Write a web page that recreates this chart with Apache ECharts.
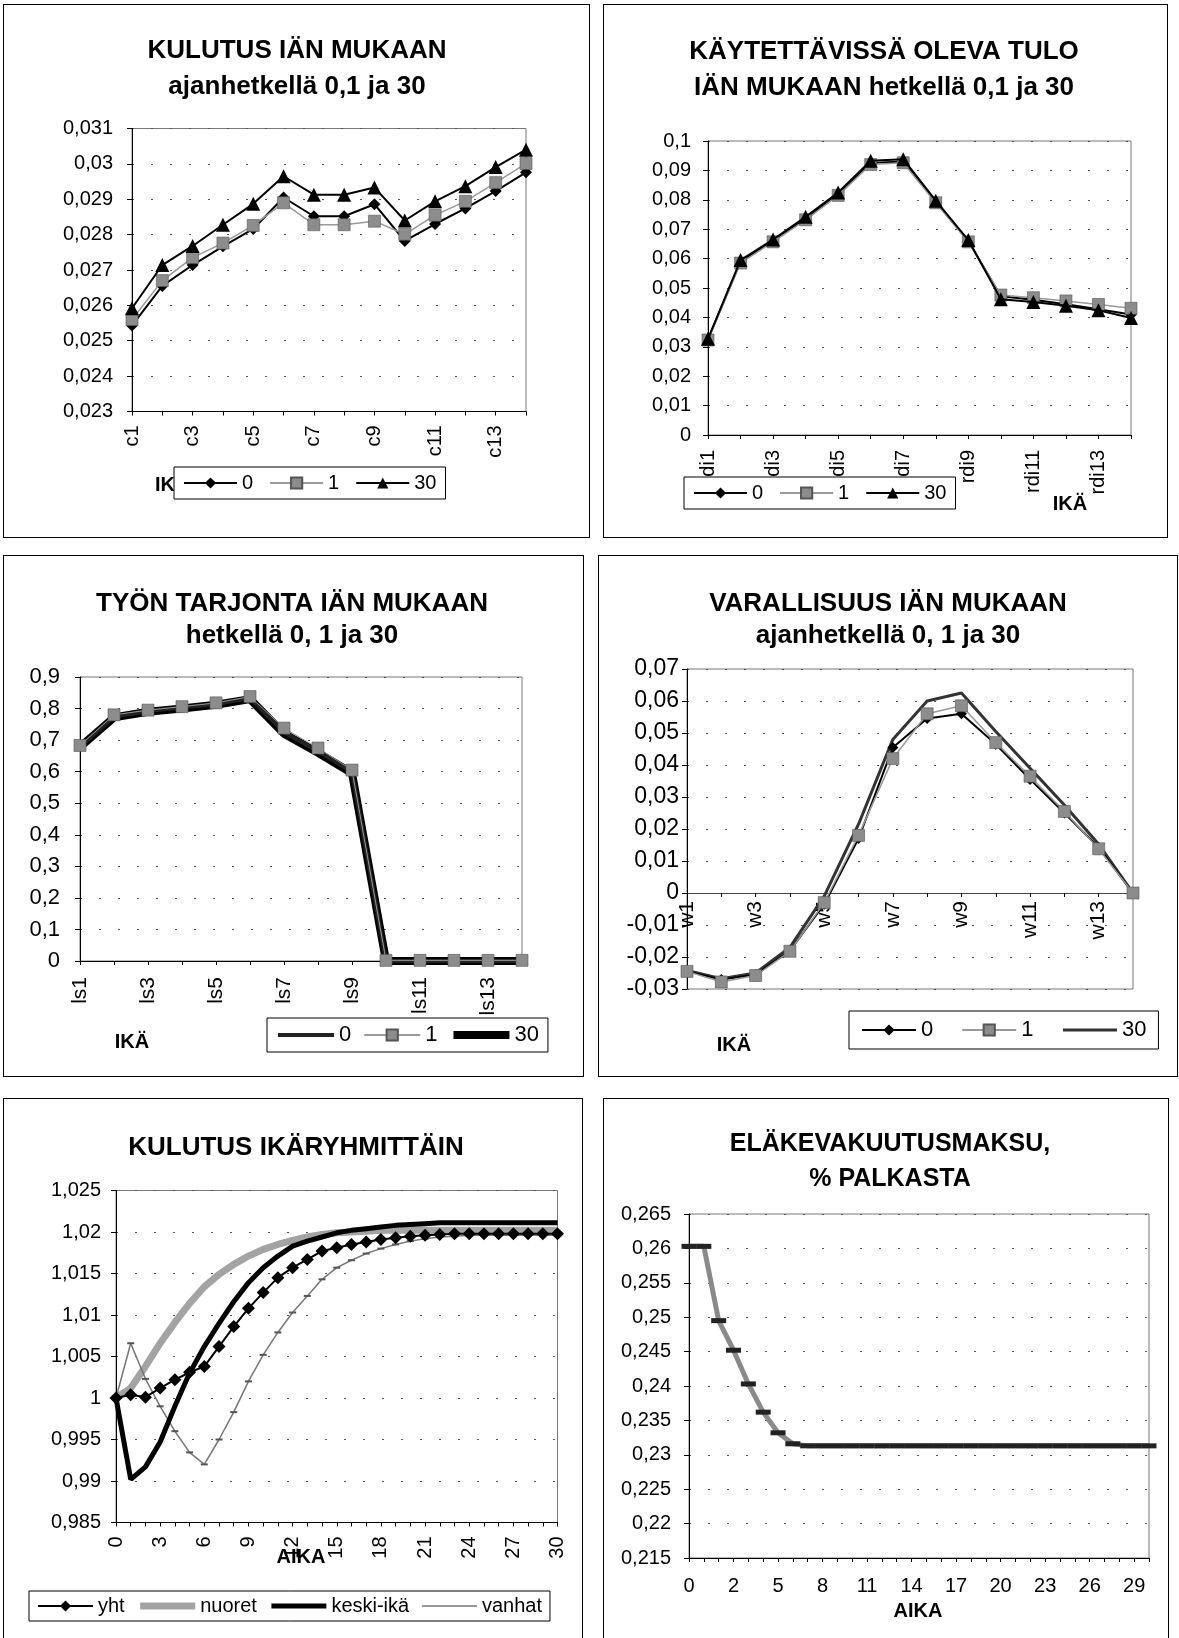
<!DOCTYPE html>
<html>
<head>
<meta charset="utf-8">
<script src="https://cdn.jsdelivr.net/npm/echarts@6/dist/echarts.min.js"></script>
<style>
  html, body { margin: 0; padding: 0; background: #fff; }
  #page { position: relative; width: 1179px; height: 1638px; overflow: hidden; background: #fff; }
  .layer { position: absolute; left: 0; top: 0; width: 1179px; height: 1638px; }
  .box { position: absolute; border: 1px solid #000; box-sizing: border-box; }
</style>
</head>
<body>
<div id="page">
  <div class="box" style="left:3px;top:4px;width:587px;height:534px"></div>
  <div class="box" style="left:603px;top:4px;width:565px;height:534px"></div>
  <div class="box" style="left:3px;top:555px;width:581px;height:522px"></div>
  <div class="box" style="left:598px;top:555px;width:580px;height:522px"></div>
  <div class="box" style="left:3px;top:1098px;width:580px;height:560px"></div>
  <div class="box" style="left:603px;top:1098px;width:566px;height:560px"></div>
  <div class="layer" id="kulutus"></div>
  <div class="layer" id="tulo"></div>
  <div class="layer" id="tyo"></div>
  <div class="layer" id="varallisuus"></div>
  <div class="layer" id="ryhmat"></div>
  <div class="layer" id="maksu"></div>
</div>
<script>
// Kulutus iän mukaan (ajanhetket 0, 1 ja 30)
const consCats = ['c1', 'c2', 'c3', 'c4', 'c5', 'c6', 'c7', 'c8', 'c9', 'c10', 'c11', 'c12', 'c13', 'c14'];
const cons0  = [0.02543, 0.02655, 0.02714, 0.02767, 0.02816, 0.02905, 0.02852, 0.02852, 0.02886, 0.02782, 0.02830, 0.02874, 0.02923, 0.02976];
const cons1  = [0.02560, 0.02670, 0.02735, 0.02776, 0.02826, 0.02890, 0.02828, 0.02828, 0.02838, 0.02801, 0.02855, 0.02894, 0.02947, 0.03001];
const cons30 = [0.02592, 0.02714, 0.02768, 0.02828, 0.02887, 0.02965, 0.02913, 0.02913, 0.02933, 0.02840, 0.02894, 0.02937, 0.02991, 0.03040];

// Käytettävissä oleva tulo iän mukaan
const incCats = ['rdi1', 'rdi2', 'rdi3', 'rdi4', 'rdi5', 'rdi6', 'rdi7', 'rdi8', 'rdi9', 'rdi10', 'rdi11', 'rdi12', 'rdi13', 'rdi14'];
const inc0  = [0.0325, 0.0590, 0.0660, 0.0735, 0.0818, 0.0925, 0.0930, 0.0793, 0.0660, 0.0472, 0.0460, 0.0445, 0.0428, 0.0410];
const inc1  = [0.0323, 0.0585, 0.0657, 0.0732, 0.0815, 0.0920, 0.0926, 0.0790, 0.0657, 0.0476, 0.0467, 0.0456, 0.0444, 0.0431];
const inc30 = [0.0327, 0.0595, 0.0665, 0.0742, 0.0825, 0.0933, 0.0938, 0.0797, 0.0663, 0.0462, 0.0452, 0.0440, 0.0424, 0.0398];

// Työn tarjonta iän mukaan
const labCats = ['ls1', 'ls2', 'ls3', 'ls4', 'ls5', 'ls6', 'ls7', 'ls8', 'ls9', 'ls10', 'ls11', 'ls12', 'ls13', 'ls14'];
const lab0  = [0.680, 0.775, 0.792, 0.803, 0.814, 0.833, 0.725, 0.665, 0.600, 0, 0, 0, 0, 0];
const lab1  = [0.683, 0.780, 0.795, 0.806, 0.818, 0.838, 0.738, 0.675, 0.605, 0.002, 0.002, 0.002, 0.002, 0.002];
const lab30 = [0.678, 0.772, 0.790, 0.800, 0.812, 0.830, 0.720, 0.660, 0.595, 0, 0, 0, 0, 0];

// Varallisuus iän mukaan
const wCats = ['w1', 'w2', 'w3', 'w4', 'w5', 'w6', 'w7', 'w8', 'w9', 'w10', 'w11', 'w12', 'w13', 'w14'];
const w0  = [-0.0245, -0.0270, -0.0255, -0.0180, -0.0035, 0.0170, 0.0455, 0.0545, 0.0560, 0.0465, 0.0355, 0.0250, 0.0142, 0];
const w1  = [-0.0245, -0.0278, -0.0258, -0.0182, -0.0030, 0.0180, 0.0420, 0.0560, 0.0585, 0.0470, 0.0365, 0.0255, 0.0138, 0];
const w30 = [-0.0242, -0.0268, -0.0250, -0.0170, -0.0010, 0.0215, 0.0480, 0.0600, 0.0625, 0.0505, 0.0390, 0.0275, 0.0152, 0];

// Kulutus ikäryhmittäin, aika 0–30
const timeCats = ['0', '1', '2', '3', '4', '5', '6', '7', '8', '9', '10', '11', '12', '13', '14', '15',
                  '16', '17', '18', '19', '20', '21', '22', '23', '24', '25', '26', '27', '28', '29', '30'];
const yht    = [1.0000, 1.0004, 1.0001, 1.0012, 1.0022, 1.0031, 1.0038, 1.0062, 1.0086, 1.0108, 1.0127, 1.0145, 1.0157, 1.0167, 1.0177, 1.0181,
                1.0185, 1.0188, 1.0191, 1.0193, 1.0195, 1.0196, 1.0197, 1.0198, 1.0198, 1.0198, 1.0198, 1.0198, 1.0198, 1.0198, 1.0198];
const nuoret = [1.0000, 1.0012, 1.0038, 1.0066, 1.0091, 1.0114, 1.0134, 1.0149, 1.0161, 1.0171, 1.0179, 1.0185, 1.0190, 1.0194, 1.0197, 1.0199,
                1.0200, 1.0201, 1.0202, 1.0202, 1.0202, 1.0202, 1.0202, 1.0202, 1.0202, 1.0202, 1.0202, 1.0202, 1.0202, 1.0202, 1.0202];
const keski  = [1.0000, 0.9902, 0.9917, 0.9947, 0.9990, 1.0030, 1.0062, 1.0090, 1.0116, 1.0139, 1.0157, 1.0171, 1.0183, 1.0189, 1.0194, 1.0199,
                1.0202, 1.0204, 1.0206, 1.0208, 1.0209, 1.0210, 1.0211, 1.0211, 1.0211, 1.0211, 1.0211, 1.0211, 1.0211, 1.0211, 1.0211];
const vanhat = [1.0000, 1.0066, 1.0023, 0.9990, 0.9960, 0.99345, 0.9920, 0.9950, 0.9983, 1.0020, 1.0052, 1.0079, 1.0103, 1.0123, 1.0143, 1.0157,
                1.0166, 1.0174, 1.0180, 1.0185, 1.0189, 1.0192, 1.0194, 1.0195, 1.0196, 1.0196, 1.0196, 1.0196, 1.0196, 1.0196, 1.0196];

// Eläkevakuutusmaksu, % palkasta (lähtötila 0 kahdesti)
const feeCats = ['0', '0', '1', '2', '3', '4', '5', '6', '7', '8', '9', '10', '11', '12', '13', '14',
                 '15', '16', '17', '18', '19', '20', '21', '22', '23', '24', '25', '26', '27', '28', '29', '30'];
const fee = [0.2603, 0.2603, 0.2495, 0.2452, 0.2403, 0.2362, 0.2332, 0.2316, 0.2313, 0.2313, 0.2313, 0.2313, 0.2313, 0.2313, 0.2313, 0.2313,
             0.2313, 0.2313, 0.2313, 0.2313, 0.2313, 0.2313, 0.2313, 0.2313, 0.2313, 0.2313, 0.2313, 0.2313, 0.2313, 0.2313, 0.2313, 0.2313];

const FONT = '"Liberation Sans", Arial, Helvetica, sans-serif';

function fmt(v) {
  return String(Math.round(v * 1e6) / 1e6).replace('.', ',');
}

function gridAt(l, t, r, b) {
  return { left: l, top: t, width: r - l, height: b - t, show: true, borderColor: '#777', borderWidth: 1 };
}

function catAxis(data, o) {
  return {
    type: 'category', data: data, boundaryGap: false, offset: o.offset || 0,
    axisLine: { show: true, onZero: false, lineStyle: { color: o.lineColor || '#000', width: 1 } },
    axisTick: { show: true, interval: 0, length: 4, lineStyle: { color: '#000' } },
    axisLabel: { interval: o.interval, rotate: o.rotate || 0, margin: o.margin, fontSize: o.size,
                 fontFamily: o.family || FONT, color: '#000' },
    splitLine: { show: false }
  };
}

function valAxis(min, max, interval, o) {
  return {
    type: 'value', min: min, max: max, interval: interval,
    axisLine: { show: true, lineStyle: { color: '#000', width: 1 } },
    axisTick: { show: true, length: 5, lineStyle: { color: '#000' } },
    axisLabel: { formatter: fmt, margin: o.margin, fontSize: o.size, fontFamily: o.family || FONT, color: '#000' },
    splitLine: { show: true, lineStyle: { color: '#555', type: [2, 17], width: 1 } }
  };
}

function label(x, y, str, size, bold, align) {
  return {
    type: 'text', x: x, y: y, z: -1,
    style: { text: str, fill: '#000', fontSize: size, fontWeight: bold ? 'bold' : 'normal',
             fontFamily: FONT, align: align || 'center', verticalAlign: 'middle' }
  };
}

function legendAt(left, top, items, o) {
  return {
    left: left, top: top, orient: 'horizontal', data: items, selectedMode: false,
    backgroundColor: '#fff', borderColor: '#000', borderWidth: 1,
    padding: o.padding || [6, 9], itemGap: o.gap, itemWidth: o.w, itemHeight: 14,
    textStyle: { fontSize: o.size, fontFamily: o.family || FONT, color: '#000' }, z: 10
  };
}

// legend entry that shows only a plain stroke (series drawn without markers)
function plainKey(name, color, width) {
  return { name: name, itemStyle: { color: 'rgba(0,0,0,0)', borderWidth: 0 }, lineStyle: { color: color, width: width } };
}

function line(name, data, style) {
  return Object.assign({
    name: name, type: 'line', data: data, showAllSymbol: true, animation: false,
    symbol: 'none', emphasis: { disabled: true }
  }, style);
}

// marker styles shared by the age-profile panels
const S_DIAMOND = { symbol: 'diamond', symbolSize: 12, lineStyle: { color: '#000', width: 2 }, itemStyle: { color: '#000' }, z: 3 };
const S_SQUARE  = { symbol: 'rect', symbolSize: 12, lineStyle: { color: '#999', width: 1.5 }, itemStyle: { color: '#8c8c8c', borderColor: '#555', borderWidth: 0.6 }, z: 4 };
const S_TRIANGLE = { symbol: 'triangle', symbolSize: 14, lineStyle: { color: '#000', width: 2 }, itemStyle: { color: '#000' }, z: 5 };

function draw(id, option) {
  const chart = echarts.init(document.getElementById(id), null, { renderer: 'canvas' });
  option.animation = false;
  option.backgroundColor = 'transparent';
  chart.setOption(option);
}

// 1. KULUTUS IÄN MUKAAN
draw('kulutus', {
  grid: gridAt(132, 128.5, 526, 411.5),
  xAxis: catAxis(consCats, { interval: 1, rotate: 90, margin: 14, size: 20 }),
  yAxis: valAxis(0.023, 0.031, 0.001, { margin: 19, size: 20 }),
  legend: legendAt(174, 467, ['0', '1', '30'], { gap: 16, w: 53, size: 20 }),
  graphic: [
    label(297, 51, 'KULUTUS IÄN MUKAAN', 26, true),
    label(297, 87, 'ajanhetkellä 0,1 ja 30', 26, true),
    label(155, 485, 'IKÄ', 20, true, 'left')
  ],
  series: [
    line('0', cons0, S_DIAMOND),
    line('1', cons1, S_SQUARE),
    line('30', cons30, S_TRIANGLE)
  ]
});

// 2. KÄYTETTÄVISSÄ OLEVA TULO
draw('tulo', {
  grid: gridAt(708, 141, 1131, 435),
  xAxis: catAxis(incCats, { interval: 1, rotate: 90, margin: 15, size: 20 }),
  yAxis: valAxis(0, 0.1, 0.01, { margin: 17, size: 20 }),
  legend: legendAt(684, 477, ['0', '1', '30'], { gap: 16, w: 53, size: 20 }),
  graphic: [
    label(884, 52, 'KÄYTETTÄVISSÄ OLEVA TULO', 26, true),
    label(884, 88, 'IÄN MUKAAN hetkellä 0,1 ja 30', 26, true),
    label(1070, 504, 'IKÄ', 20, true)
  ],
  series: [
    line('0', inc0, S_DIAMOND),
    line('1', inc1, S_SQUARE),
    line('30', inc30, S_TRIANGLE)
  ]
});

// 3. TYÖN TARJONTA IÄN MUKAAN
draw('tyo', {
  grid: gridAt(80, 677, 522, 961),
  xAxis: catAxis(labCats, { interval: 1, rotate: 90, margin: 16, size: 21 }),
  yAxis: valAxis(0, 0.9, 0.1, { margin: 20, size: 22 }),
  legend: legendAt(267, 1018, [plainKey('0', '#222', 4), '1', plainKey('30', '#000', 8)], { gap: 12, w: 56, size: 22 }),
  graphic: [
    label(292, 604, 'TYÖN TARJONTA IÄN MUKAAN', 26, true),
    label(292, 636, 'hetkellä 0, 1 ja 30', 26, true),
    label(132, 1042, 'IKÄ', 20, true)
  ],
  series: [
    line('30', lab30, { lineStyle: { color: '#000', width: 8 }, itemStyle: { color: '#000' }, z: 2 }),
    line('0', lab0, { lineStyle: { color: '#222', width: 4 }, itemStyle: { color: '#222' }, z: 3 }),
    line('1', lab1, { symbol: 'rect', symbolSize: 12, lineStyle: { color: '#999', width: 1 },
                      itemStyle: { color: '#8c8c8c', borderColor: '#555', borderWidth: 0.6 }, z: 4 })
  ]
});

// 4. VARALLISUUS IÄN MUKAAN — the category axis runs along the zero line
const wTop = 669, wBottom = 989, wMin = -0.03, wMax = 0.07;
const wZeroShift = (wBottom - wTop) * (0 - wMin) / (wMax - wMin);
draw('varallisuus', {
  grid: gridAt(687, wTop, 1133, wBottom),
  xAxis: catAxis(wCats, { interval: 1, rotate: 90, margin: 8, size: 21, offset: -wZeroShift, lineColor: '#444' }),
  yAxis: valAxis(wMin, wMax, 0.01, { margin: 8, size: 23 }),
  legend: legendAt(849, 1011, ['0', '1', plainKey('30', '#333', 3)], { gap: 28, w: 54, size: 22, padding: [8, 12] }),
  graphic: [
    label(888, 604, 'VARALLISUUS IÄN MUKAAN', 26, true),
    label(888, 636, 'ajanhetkellä 0, 1 ja 30', 26, true),
    label(734, 1045, 'IKÄ', 20, true)
  ],
  series: [
    line('30', w30, { lineStyle: { color: '#333', width: 3 }, itemStyle: { color: '#333' }, z: 2 }),
    line('0', w0, Object.assign({}, S_DIAMOND, { symbolSize: 11 })),
    line('1', w1, S_SQUARE)
  ]
});

// 5. KULUTUS IKÄRYHMITTÄIN
draw('ryhmat', {
  grid: gridAt(116, 1190.5, 557.5, 1522.5),
  xAxis: catAxis(timeCats, { interval: 2, rotate: 90, margin: 14, size: 20 }),
  yAxis: valAxis(0.985, 1.025, 0.005, { margin: 15, size: 20 }),
  legend: legendAt(29, 1591, ['yht', plainKey('nuoret', '#a3a3a3', 7), plainKey('keski-ikä', '#000', 5), plainKey('vanhat', '#777', 1.5)],
                   { gap: 12, w: 55, size: 20, padding: [5, 8] }),
  graphic: [
    label(296, 1148, 'KULUTUS IKÄRYHMITTÄIN', 26, true),
    label(301, 1557, 'AIKA', 20, true)
  ],
  series: [
    line('nuoret', nuoret, { lineStyle: { color: '#a3a3a3', width: 7 }, itemStyle: { color: '#a3a3a3' }, z: 2 }),
    line('vanhat', vanhat, { symbol: 'rect', symbolSize: [7, 2], lineStyle: { color: '#777', width: 1.5 },
                             itemStyle: { color: '#555' }, z: 3 }),
    line('keski-ikä', keski, { lineStyle: { color: '#000', width: 5 }, itemStyle: { color: '#000' }, z: 4 }),
    line('yht', yht, { symbol: 'diamond', symbolSize: 13, lineStyle: { color: '#000', width: 2 }, itemStyle: { color: '#000' }, z: 5 })
  ]
});

// 6. ELÄKEVAKUUTUSMAKSU, % PALKASTA
draw('maksu', {
  grid: gridAt(689, 1214, 1149, 1558),
  xAxis: catAxis(feeCats, { interval: 2, rotate: 0, margin: 18, size: 20 }),
  yAxis: valAxis(0.215, 0.265, 0.005, { margin: 18, size: 20 }),
  graphic: [
    label(890, 1144, 'ELÄKEVAKUUTUSMAKSU,', 25, true),
    label(890, 1179, '% PALKASTA', 25, true),
    label(918, 1611, 'AIKA', 20, true)
  ],
  series: [
    line('maksu', fee, { symbol: 'rect', symbolSize: [15, 5], lineStyle: { color: '#8a8a8a', width: 5 },
                         itemStyle: { color: '#222' } })
  ]
});
</script>
</body>
</html>
